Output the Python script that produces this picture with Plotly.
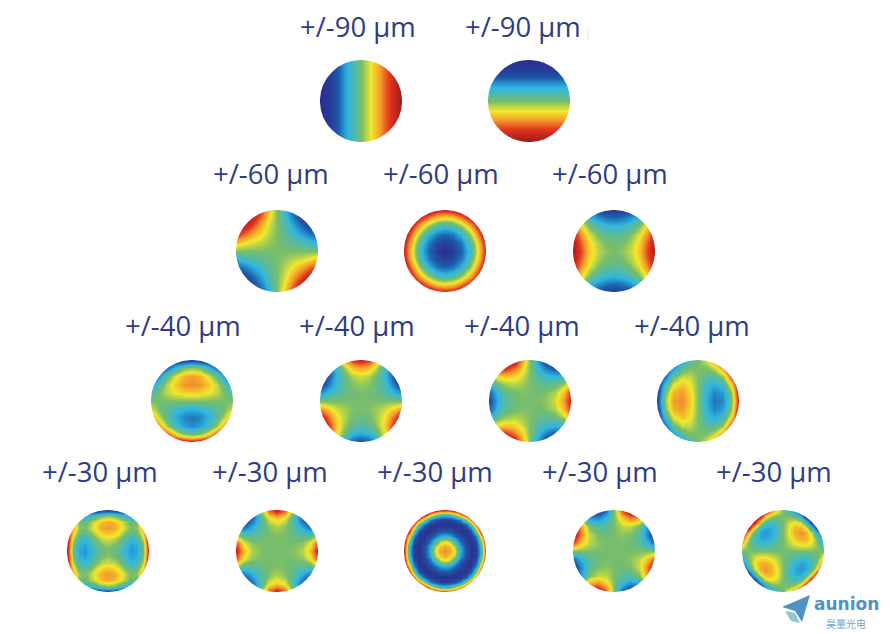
import numpy as np
import plotly.graph_objects as go

# values are on a 0-10 scale (0 = dark blue, 5 = green, 10 = dark red), top row first
tilt_x = [[0, 0.3, 1, 2.8, 3.9, 5, 6, 7, 8.2, 9.1, 10]] * 11

tilt_y = [[0] * 11, [0.3] * 11, [1] * 11, [2.8] * 11, [3.9] * 11, [5] * 11,
          [6] * 11, [7] * 11, [8.2] * 11, [9.1] * 11, [10] * 11]

astig_45 = [
    [10, 10, 10, 8.6, 6.8, 5, 3.2, 1.4, 0, 0, 0],
    [10, 10, 9.4, 7.9, 6.3, 5, 3.7, 2.1, 0.6, 0, 0],
    [10, 9.4, 8.4, 7.1, 5.9, 5, 4.1, 2.9, 1.6, 0.6, 0],
    [8.6, 7.9, 7.1, 6.3, 5.6, 5, 4.4, 3.7, 2.9, 2.1, 1.4],
    [6.8, 6.3, 5.9, 5.6, 5.3, 5, 4.7, 4.4, 4.1, 3.7, 3.2],
    [5, 5, 5, 5, 5, 5, 5, 5, 5, 5, 5],
    [3.2, 3.7, 4.1, 4.4, 4.7, 5, 5.3, 5.6, 5.9, 6.3, 6.8],
    [1.4, 2.1, 2.9, 3.7, 4.4, 5, 5.6, 6.3, 7.1, 7.9, 8.6],
    [0, 0.6, 1.6, 2.9, 4.1, 5, 5.9, 7.1, 8.4, 9.4, 10],
    [0, 0, 0.6, 2.1, 3.7, 5, 6.3, 7.9, 9.4, 10, 10],
    [0, 0, 0, 1.4, 3.2, 5, 6.8, 8.6, 10, 10, 10],
]

defocus = [
    [10, 10, 10, 10, 9.2, 9, 9.2, 10, 10, 10, 10],
    [10, 10, 9, 7.6, 6.6, 6.3, 6.6, 7.6, 9, 10, 10],
    [10, 9, 7, 5.2, 4.1, 3.6, 4.1, 5.2, 7, 9, 10],
    [10, 7.6, 5.2, 3.2, 1.9, 1.5, 1.9, 3.2, 5.2, 7.6, 10],
    [9.2, 6.6, 4.1, 1.9, 0.8, 0.4, 0.8, 1.9, 4.1, 6.6, 9.2],
    [9, 6.3, 3.6, 1.5, 0.4, 0, 0.4, 1.5, 3.6, 6.3, 9],
    [9.2, 6.6, 4.1, 1.9, 0.8, 0.4, 0.8, 1.9, 4.1, 6.6, 9.2],
    [10, 7.6, 5.2, 3.2, 1.9, 1.5, 1.9, 3.2, 5.2, 7.6, 10],
    [10, 9, 7, 5.2, 4.1, 3.6, 4.1, 5.2, 7, 9, 10],
    [10, 10, 9, 7.6, 6.6, 6.3, 6.6, 7.6, 9, 10, 10],
    [10, 10, 10, 10, 9.2, 9, 9.2, 10, 10, 10, 10],
]

astig_0 = [
    [5, 3, 1.6, 0.8, 0.4, 0.3, 0.4, 0.8, 1.6, 3, 5],
    [7, 5, 3.5, 2.5, 1.9, 1.6, 1.9, 2.5, 3.5, 5, 7],
    [8.4, 6.5, 5, 4, 3.5, 3.3, 3.5, 4, 5, 6.5, 8.4],
    [9.2, 7.5, 6, 5, 4.5, 4.3, 4.5, 5, 6, 7.5, 9.2],
    [9.6, 8.1, 6.5, 5.5, 5, 4.8, 5, 5.5, 6.5, 8.1, 9.6],
    [9.7, 8.4, 6.7, 5.7, 5.2, 5, 5.2, 5.7, 6.7, 8.4, 9.7],
    [9.6, 8.1, 6.5, 5.5, 5, 4.8, 5, 5.5, 6.5, 8.1, 9.6],
    [9.2, 7.5, 6, 5, 4.5, 4.3, 4.5, 5, 6, 7.5, 9.2],
    [8.4, 6.5, 5, 4, 3.5, 3.3, 3.5, 4, 5, 6.5, 8.4],
    [7, 5, 3.5, 2.5, 1.9, 1.6, 1.9, 2.5, 3.5, 5, 7],
    [5, 3, 1.6, 0.8, 0.4, 0.3, 0.4, 0.8, 1.6, 3, 5],
]

coma_y = [
    [0, 0, 0, 0, 0.3, 0.8, 0.3, 0, 0, 0, 0],
    [0, 0, 1.6, 3.7, 4.9, 5.3, 4.9, 3.7, 1.6, 0, 0],
    [0, 2.5, 4.6, 6.1, 7, 7.3, 7, 6.1, 4.6, 2.5, 0],
    [2.5, 4.3, 5.7, 6.8, 7.4, 7.6, 7.4, 6.8, 5.7, 4.3, 2.5],
    [4.1, 5, 5.7, 6.2, 6.5, 6.6, 6.5, 6.2, 5.7, 5, 4.1],
    [5, 5, 5, 5, 5, 5, 5, 5, 5, 5, 5],
    [5.9, 5, 4.3, 3.8, 3.3, 3.1, 3.3, 3.8, 4.3, 5, 5.9],
    [7.5, 5.7, 4.3, 3, 2.2, 1.9, 2.2, 3, 4.3, 5.7, 7.5],
    [10, 7.5, 5.4, 3.7, 2.7, 2.3, 2.7, 3.7, 5.4, 7.5, 10],
    [10, 10, 8.4, 6.3, 5.1, 4.7, 5.1, 6.3, 8.4, 10, 10],
    [10, 10, 10, 10, 9.7, 9.2, 9.7, 10, 10, 10, 10],
]

trefoil_y = [
    [0, 1.1, 4.7, 7.2, 8.7, 9.2, 8.7, 7.2, 4.7, 1.1, 0],
    [0, 0.7, 3.5, 5.5, 6.8, 7.2, 6.8, 5.5, 3.5, 0.7, 0],
    [0, 1.1, 3.2, 4.7, 5.6, 5.9, 5.6, 4.7, 3.2, 1.1, 0],
    [0.2, 2, 3.5, 4.5, 5.1, 5.3, 5.1, 4.5, 3.5, 2, 0.2],
    [2.5, 3.4, 4.1, 4.6, 4.9, 5, 4.9, 4.6, 4.1, 3.4, 2.5],
    [5, 5, 5, 5, 5, 5, 5, 5, 5, 5, 5],
    [7.5, 6.6, 5.9, 5.4, 5.1, 5, 5.1, 5.4, 5.9, 6.6, 7.5],
    [9.8, 8, 6.5, 5.5, 4.9, 4.7, 4.9, 5.5, 6.5, 8, 9.8],
    [10, 8.9, 6.8, 5.3, 4.4, 4.1, 4.4, 5.3, 6.8, 8.9, 10],
    [10, 9.3, 6.5, 4.5, 3.2, 2.8, 3.2, 4.5, 6.5, 9.3, 10],
    [10, 8.9, 5.3, 2.8, 1.3, 0.8, 1.3, 2.8, 5.3, 8.9, 10],
]

trefoil_x = [
    [10, 10, 10, 9.8, 7.5, 5, 2.5, 0.2, 0, 0, 0],
    [8.9, 9.3, 8.9, 8, 6.6, 5, 3.4, 2, 1.1, 0.7, 1.1],
    [5.3, 6.5, 6.8, 6.6, 5.9, 5, 4.1, 3.5, 3.2, 3.5, 4.7],
    [2.8, 4.5, 5.3, 5.5, 5.4, 5, 4.6, 4.5, 4.7, 5.5, 7.2],
    [1.3, 3.3, 4.4, 4.9, 5.1, 5, 4.9, 5.1, 5.6, 6.8, 8.7],
    [0.8, 2.9, 4.1, 4.7, 5, 5, 5, 5.3, 5.9, 7.2, 9.2],
    [1.3, 3.3, 4.4, 4.9, 5.1, 5, 4.9, 5.1, 5.6, 6.8, 8.7],
    [2.8, 4.5, 5.3, 5.5, 5.4, 5, 4.6, 4.5, 4.7, 5.5, 7.2],
    [5.3, 6.5, 6.8, 6.6, 5.9, 5, 4.1, 3.5, 3.2, 3.5, 4.7],
    [8.9, 9.3, 8.9, 8, 6.6, 5, 3.4, 2, 1.1, 0.7, 1.1],
    [10, 10, 10, 9.8, 7.5, 5, 2.5, 0.2, 0, 0, 0],
]

coma_x = [
    [0, 0, 0, 2.5, 4.1, 5, 5.9, 7.5, 10, 10, 10],
    [0, 0, 2.5, 4.3, 5, 5, 5, 5.7, 7.5, 10, 10],
    [0, 1.6, 4.6, 5.7, 5.7, 5, 4.3, 4.3, 5.4, 8.4, 10],
    [0, 3.7, 6.1, 6.8, 6.2, 5, 3.6, 3, 3.7, 6.3, 10],
    [0.3, 4.9, 7, 7.4, 6.5, 5, 3.3, 2.2, 2.7, 5.1, 9.7],
    [0.8, 5.3, 7.3, 7.6, 6.6, 5, 3.1, 1.9, 2.3, 4.7, 9.2],
    [0.3, 4.9, 7, 7.4, 6.5, 5, 3.3, 2.2, 2.7, 5.1, 9.7],
    [0, 3.7, 6.1, 6.8, 6.2, 5, 3.6, 3, 3.7, 6.3, 10],
    [0, 1.6, 4.6, 5.7, 5.7, 5, 4.3, 4.3, 5.4, 8.4, 10],
    [0, 0, 2.5, 4.3, 5, 5, 5, 5.7, 7.5, 10, 10],
    [0, 0, 0, 2.5, 4.1, 5, 5.9, 7.5, 10, 10, 10],
]

astig2_0 = [
    [5, 0.3, 0, 0, 0, 0, 0.3, 0.6, 0.3, 0, 0, 0, 0, 0.3, 5],
    [9.7, 5, 3.1, 2.8, 3.5, 4.3, 5, 5.3, 5, 4.3, 3.5, 2.8, 3.1, 5, 9.7],
    [10, 6.9, 5, 4.7, 5.4, 6.2, 6.9, 7.2, 6.9, 6.2, 5.4, 4.7, 5, 6.9, 10],
    [10, 7.2, 5.3, 5, 5.6, 6.5, 7.2, 7.4, 7.2, 6.5, 5.6, 5, 5.3, 7.2, 10],
    [10, 6.6, 4.7, 4.4, 5, 5.9, 6.6, 6.8, 6.6, 5.9, 5, 4.4, 4.7, 6.6, 10],
    [10, 5.7, 3.8, 3.5, 4.1, 5, 5.7, 5.9, 5.7, 5, 4.1, 3.5, 3.8, 5.7, 10],
    [9.7, 5, 3.1, 2.8, 3.5, 4.3, 5, 5.3, 5, 4.3, 3.5, 2.8, 3.1, 5, 9.7],
    [9.4, 4.7, 2.9, 2.6, 3.2, 4.1, 4.7, 5, 4.7, 4.1, 3.2, 2.6, 2.9, 4.7, 9.4],
    [9.7, 5, 3.1, 2.8, 3.5, 4.3, 5, 5.3, 5, 4.3, 3.5, 2.8, 3.1, 5, 9.7],
    [10, 5.7, 3.8, 3.5, 4.1, 5, 5.7, 5.9, 5.7, 5, 4.1, 3.5, 3.8, 5.7, 10],
    [10, 6.6, 4.7, 4.4, 5, 5.9, 6.6, 6.8, 6.6, 5.9, 5, 4.4, 4.7, 6.6, 10],
    [10, 7.2, 5.3, 5, 5.6, 6.5, 7.2, 7.4, 7.2, 6.5, 5.6, 5, 5.3, 7.2, 10],
    [10, 6.9, 5, 4.7, 5.4, 6.2, 6.9, 7.2, 6.9, 6.2, 5.4, 4.7, 5, 6.9, 10],
    [9.7, 5, 3.1, 2.8, 3.5, 4.3, 5, 5.3, 5, 4.3, 3.5, 2.8, 3.1, 5, 9.7],
    [5, 0.3, 0, 0, 0, 0, 0.3, 0.6, 0.3, 0, 0, 0, 0, 0.3, 5],
]

quad_0 = [
    [0, 0, 0.6, 5.3, 8.3, 9.3, 8.3, 5.3, 0.6, 0, 0],
    [0, 0, 1.4, 4.2, 6.1, 6.8, 6.1, 4.2, 1.4, 0, 0],
    [0.6, 1.4, 2.8, 4.2, 5.2, 5.6, 5.2, 4.2, 2.8, 1.4, 0.6],
    [5.3, 4.2, 4.2, 4.6, 5, 5.1, 5, 4.6, 4.2, 4.2, 5.3],
    [8.3, 6.1, 5.2, 5, 5, 5, 5, 5, 5.2, 6.1, 8.3],
    [9.3, 6.8, 5.6, 5.1, 5, 5, 5, 5.1, 5.6, 6.8, 9.3],
    [8.3, 6.1, 5.2, 5, 5, 5, 5, 5, 5.2, 6.1, 8.3],
    [5.3, 4.2, 4.2, 4.6, 5, 5.1, 5, 4.6, 4.2, 4.2, 5.3],
    [0.6, 1.4, 2.8, 4.2, 5.2, 5.6, 5.2, 4.2, 2.8, 1.4, 0.6],
    [0, 0, 1.4, 4.2, 6.1, 6.8, 6.1, 4.2, 1.4, 0, 0],
    [0, 0, 0.6, 5.3, 8.3, 9.3, 8.3, 5.3, 0.6, 0, 0],
]

spherical = [
    [10, 10, 10, 10, 10, 10, 9.8, 9.3, 9, 9.3, 9.8, 10, 10, 10, 10, 10, 10],
    [10, 10, 10, 10, 9.2, 6.9, 5.2, 3.9, 3.5, 3.9, 5.2, 6.9, 9.2, 10, 10, 10, 10],
    [10, 10, 10, 8, 4.8, 2.2, 1, 0.5, 0.4, 0.5, 1, 2.2, 4.8, 8, 10, 10, 10],
    [10, 10, 8, 3.9, 1.2, 0.2, 0.1, 0.1, 0.1, 0.1, 0.1, 0.2, 1.2, 3.9, 8, 10, 10],
    [10, 9.2, 4.8, 1.2, 0.1, 0.2, 0.5, 1, 1.1, 1, 0.5, 0.2, 0.1, 1.2, 4.8, 9.2, 10],
    [10, 6.9, 2.2, 0.2, 0.2, 0.8, 1.7, 2.8, 3.2, 2.8, 1.7, 0.8, 0.2, 0.2, 2.2, 6.9, 10],
    [9.8, 5.2, 1, 0.1, 0.5, 1.7, 3.6, 5.4, 6, 5.4, 3.6, 1.7, 0.5, 0.1, 1, 5.2, 9.8],
    [9.3, 3.9, 0.5, 0.1, 1, 2.8, 5.4, 6.7, 7.2, 6.7, 5.4, 2.8, 1, 0.1, 0.5, 3.9, 9.3],
    [9, 3.5, 0.4, 0.1, 1.1, 3.2, 6, 7.2, 7.6, 7.2, 6, 3.2, 1.1, 0.1, 0.4, 3.5, 9],
    [9.3, 3.9, 0.5, 0.1, 1, 2.8, 5.4, 6.7, 7.2, 6.7, 5.4, 2.8, 1, 0.1, 0.5, 3.9, 9.3],
    [9.8, 5.2, 1, 0.1, 0.5, 1.7, 3.6, 5.4, 6, 5.4, 3.6, 1.7, 0.5, 0.1, 1, 5.2, 9.8],
    [10, 6.9, 2.2, 0.2, 0.2, 0.8, 1.7, 2.8, 3.2, 2.8, 1.7, 0.8, 0.2, 0.2, 2.2, 6.9, 10],
    [10, 9.2, 4.8, 1.2, 0.1, 0.2, 0.5, 1, 1.1, 1, 0.5, 0.2, 0.1, 1.2, 4.8, 9.2, 10],
    [10, 10, 8, 3.9, 1.2, 0.2, 0.1, 0.1, 0.1, 0.1, 0.1, 0.2, 1.2, 3.9, 8, 10, 10],
    [10, 10, 10, 8, 4.8, 2.2, 1, 0.5, 0.4, 0.5, 1, 2.2, 4.8, 8, 10, 10, 10],
    [10, 10, 10, 10, 9.2, 6.9, 5.2, 3.9, 3.5, 3.9, 5.2, 6.9, 9.2, 10, 10, 10, 10],
    [10, 10, 10, 10, 10, 10, 9.8, 9.3, 9, 9.3, 9.8, 10, 10, 10, 10, 10, 10],
]

quad_45 = [
    [5, 0, 0, 0, 1.6, 5, 8.4, 10, 10, 10, 5],
    [10, 5, 2.6, 2.3, 3.3, 5, 6.7, 7.7, 7.4, 5, 0],
    [10, 7.4, 5, 4.2, 4.3, 5, 5.7, 5.8, 5, 2.6, 0],
    [10, 7.7, 5.8, 5, 4.8, 5, 5.2, 5, 4.2, 2.3, 0],
    [8.4, 6.7, 5.7, 5.2, 5, 5, 5, 4.8, 4.3, 3.3, 1.6],
    [5, 5, 5, 5, 5, 5, 5, 5, 5, 5, 5],
    [1.6, 3.3, 4.3, 4.8, 5, 5, 5, 5.2, 5.7, 6.7, 8.4],
    [0, 2.3, 4.2, 5, 5.2, 5, 4.8, 5, 5.8, 7.7, 10],
    [0, 2.6, 5, 5.8, 5.7, 5, 4.3, 4.2, 5, 7.4, 10],
    [0, 5, 7.4, 7.7, 6.7, 5, 3.3, 2.3, 2.6, 5, 10],
    [5, 10, 10, 10, 8.4, 5, 1.6, 0, 0, 0, 5],
]

astig2_45 = [
    [10, 10, 10, 10, 10, 8.3, 6.4, 5, 3.6, 1.7, 0, 0, 0, 0, 0],
    [10, 10, 10, 10, 7.1, 5.5, 5, 5, 5, 4.5, 2.9, 0, 0, 0, 0],
    [10, 10, 9.8, 6.3, 4.3, 3.8, 4.2, 5, 5.8, 6.2, 5.7, 3.7, 0.2, 0, 0],
    [10, 10, 6.3, 3.8, 2.9, 3, 3.8, 5, 6.2, 7, 7.1, 6.2, 3.7, 0, 0],
    [10, 7.1, 4.3, 2.9, 2.5, 2.9, 3.8, 5, 6.2, 7.1, 7.5, 7.1, 5.7, 2.9, 0],
    [8.3, 5.5, 3.8, 3, 2.9, 3.3, 4.1, 5, 5.9, 6.7, 7.1, 7, 6.2, 4.5, 1.7],
    [6.4, 5, 4.2, 3.8, 3.8, 4.1, 4.5, 5, 5.5, 5.9, 6.2, 6.2, 5.8, 5, 3.6],
    [5, 5, 5, 5, 5, 5, 5, 5, 5, 5, 5, 5, 5, 5, 5],
    [3.6, 5, 5.8, 6.2, 6.2, 5.9, 5.5, 5, 4.5, 4.1, 3.8, 3.8, 4.2, 5, 6.4],
    [1.7, 4.5, 6.2, 7, 7.1, 6.7, 5.9, 5, 4.1, 3.3, 2.9, 3, 3.8, 5.5, 8.3],
    [0, 2.9, 5.7, 7.1, 7.5, 7.1, 6.2, 5, 3.8, 2.9, 2.5, 2.9, 4.3, 7.1, 10],
    [0, 0, 3.7, 6.2, 7.1, 7, 6.2, 5, 3.8, 3, 2.9, 3.8, 6.3, 10, 10],
    [0, 0, 0.2, 3.7, 5.7, 6.2, 5.8, 5, 4.2, 3.8, 4.3, 6.3, 9.8, 10, 10],
    [0, 0, 0, 0, 2.9, 4.5, 5, 5, 5, 5.5, 7.1, 10, 10, 10, 10],
    [0, 0, 0, 0, 0, 1.7, 3.6, 5, 6.4, 8.3, 10, 10, 10, 10, 10],
]

disc_grids = [tilt_x, tilt_y,
              astig_45, defocus, astig_0,
              coma_y, trefoil_y, trefoil_x, coma_x,
              astig2_0, quad_0, spherical, quad_45, astig2_45]
disc_centres = [(361, 101), (529, 101),
                (277, 251), (445, 251), (614, 251),
                (192, 401), (361, 401), (530, 401), (698, 401),
                (108, 551), (277, 551), (445, 551), (614, 551), (783, 551)]
disc_radius = 41

label_texts = ["+/-90 µm"] * 2 + ["+/-60 µm"] * 3 + ["+/-40 µm"] * 4 + ["+/-30 µm"] * 5
label_centres = [(358, 27), (523, 27),
                 (271, 173), (441, 173), (610, 173),
                 (183, 325), (357, 325), (522, 325), (692, 325),
                 (100, 471), (270, 471), (435, 471), (600, 471), (774, 471)]

colorscale = [[0, "#2b2f8e"], [0.15, "#1c62ae"], [0.32, "#2eb6e2"], [0.5, "#76bd6c"],
              [0.62, "#f3e82a"], [0.74, "#f29a2b"], [0.86, "#e2321f"], [1, "#9a1a1c"]]

W, H = 890, 634


def px_x(x):
    return x / W


def px_y(y):
    return 1 - y / H


fig = go.Figure()
layout_axes = {}
shapes = []

for i, (grid, (cx, cy)) in enumerate(zip(disc_grids, disc_centres), start=1):
    z = np.array(grid, dtype=float)[::-1]
    n = z.shape[0]
    fig.add_trace(go.Heatmap(
        z=z,
        x=np.linspace(-1, 1, n),
        y=np.linspace(-1, 1, n),
        zmin=0,
        zmax=10,
        colorscale=colorscale,
        showscale=False,
        zsmooth="best",
        xaxis=f"x{i}",
        yaxis=f"y{i}",
    ))
    suffix = "" if i == 1 else str(i)
    layout_axes[f"xaxis{suffix}"] = dict(
        domain=[px_x(cx - disc_radius), px_x(cx + disc_radius)],
        range=[-1, 1], visible=False, anchor=f"y{suffix}",
    )
    layout_axes[f"yaxis{suffix}"] = dict(
        domain=[px_y(cy + disc_radius), px_y(cy - disc_radius)],
        range=[-1, 1], visible=False, anchor=f"x{suffix}",
    )
    # thick white ring hides the square corners of the heatmap
    shapes.append(dict(
        type="circle", xref=f"x{i}", yref=f"y{i}", layer="above",
        x0=-1.22, x1=1.22, y0=-1.22, y1=1.22,
        line=dict(color="white", width=18),
    ))

annotations = []
for text, (lx, ly) in zip(label_texts, label_centres):
    annotations.append(dict(
        text=text, x=px_x(lx), y=px_y(ly), xref="paper", yref="paper",
        xanchor="center", yanchor="middle", showarrow=False,
        font=dict(family="Open Sans", size=27.5, color="#2e3b85"),
    ))

# faint mark next to the second label
annotations.append(dict(
    text="|", x=px_x(588), y=px_y(32), xref="paper", yref="paper",
    xanchor="center", yanchor="middle", showarrow=False,
    font=dict(family="Open Sans", size=11, color="#dddddd"),
))

# logo, bottom right
annotations.append(dict(
    text="<b>aunion</b>", x=px_x(846), y=px_y(604), xref="paper", yref="paper",
    xanchor="center", yanchor="middle", showarrow=False,
    font=dict(family="DejaVu Sans", size=17, color="#4e93c4"),
))
annotations.append(dict(
    text="昊量光电", x=px_x(846), y=px_y(623), xref="paper", yref="paper",
    xanchor="center", yanchor="middle", showarrow=False,
    font=dict(family="Noto Sans CJK SC", size=10, color="#6aa9d0"),
))


def polygon(points, color):
    path = "M" + " L".join(f"{px_x(x):.4f},{px_y(y):.4f}" for x, y in points) + " Z"
    return dict(type="path", xref="paper", yref="paper", path=path,
                fillcolor=color, line=dict(width=0), layer="above")


shapes.append(polygon([(810, 595), (782, 607), (795, 611), (802, 622)], "#4e93c4"))
shapes.append(polygon([(785, 611), (795, 613), (800, 623), (791, 621)], "#8cc8d0"))

fig.update_layout(
    width=W,
    height=H,
    margin=dict(l=0, r=0, t=0, b=0),
    paper_bgcolor="white",
    plot_bgcolor="white",
    showlegend=False,
    shapes=shapes,
    annotations=annotations,
    **layout_axes,
)

fig.write_html("out.html", config={"displayModeBar": False},
               post_script="document.body.style.margin='0';")
